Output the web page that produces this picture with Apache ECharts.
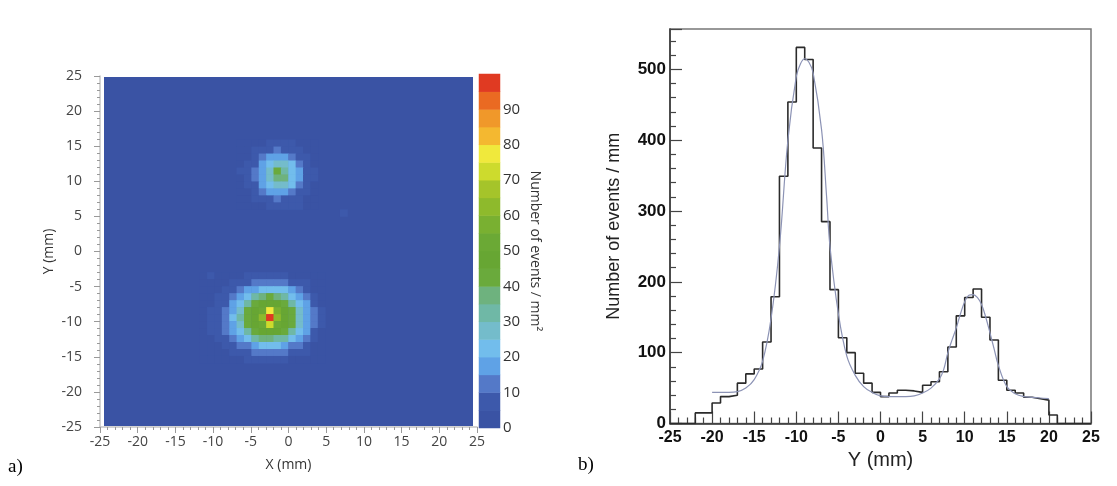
<!DOCTYPE html>
<html>
<head>
<meta charset="utf-8">
<script src="https://cdn.jsdelivr.net/npm/echarts@6/dist/echarts.min.js"></script>
<style>
  html, body { margin: 0; padding: 0; background: #fff; }
  #main { width: 1117px; height: 486px; }
</style>
</head>
<body>
<div id="main"></div>
<script>
// ---- a) 2D map: number of events / mm2, 1 mm cells ----
// lower spot, rows from y=-3..-4 (top) downwards, columns from x=-12 rightwards
var lowSpotX0 = -12;
var lowSpotYTop = -3;
var lowSpot = [
  [2, 6, 3, 2, 3, 4, 5, 6, 6, 7, 6, 5, 4, 3, 2, 2, 1],
  [2, 4, 3, 4, 6, 7, 9, 11, 12, 13, 12, 11, 9, 6, 5, 3, 2],
  [2, 3, 4, 6, 7, 11, 16, 19, 21, 22, 21, 20, 16, 12, 7, 4, 2],
  [2, 3, 5, 7, 11, 16, 23, 33, 38, 40, 36, 32, 23, 16, 12, 6, 3],
  [3, 4, 6, 9, 15, 22, 34, 43, 46, 48, 46, 43, 33, 22, 16, 9, 4],
  [3, 5, 7, 11, 18, 28, 40, 47, 54, 78, 55, 47, 40, 28, 18, 10, 5],
  [3, 6, 8, 12, 20, 30, 42, 49, 62, 95, 63, 49, 42, 29, 19, 12, 6],
  [3, 5, 8, 11, 18, 28, 40, 47, 53, 72, 53, 47, 40, 28, 18, 10, 5],
  [3, 5, 8, 12, 16, 22, 33, 42, 45, 46, 45, 42, 33, 22, 16, 9, 4],
  [2, 4, 6, 9, 12, 16, 22, 31, 35, 36, 34, 30, 22, 15, 11, 6, 3],
  [2, 3, 4, 5, 7, 10, 14, 19, 21, 22, 21, 19, 14, 10, 6, 4, 3],
  [1, 2, 3, 4, 6, 7, 9, 11, 12, 12, 11, 10, 8, 6, 5, 3, 2],
  [1, 1, 2, 3, 3, 4, 5, 6, 7, 7, 6, 5, 4, 3, 2, 2, 1]
];
// upper spot, rows from y=16..15 downwards, columns from x=-7
var upSpotX0 = -7;
var upSpotYTop = 16;
var upSpot = [
  [2, 2, 3, 4, 5, 5, 5, 5, 4, 3, 2],
  [2, 3, 5, 6, 8, 10, 9, 7, 6, 4, 3],
  [3, 4, 7, 11, 16, 18, 17, 14, 8, 5, 3],
  [3, 5, 9, 16, 22, 27, 25, 20, 13, 7, 4],
  [6, 6, 12, 19, 28, 40, 34, 24, 16, 8, 5],
  [3, 6, 12, 19, 28, 36, 35, 24, 16, 8, 5],
  [3, 5, 9, 16, 22, 27, 25, 20, 13, 7, 4],
  [3, 4, 7, 11, 16, 18, 17, 14, 8, 5, 3],
  [2, 3, 5, 6, 8, 10, 9, 8, 6, 4, 3],
  [2, 2, 3, 4, 5, 5, 6, 6, 5, 3, 2]
];
// isolated single cells [x lower edge, y lower edge, value]
var specks = [[7, 5, 6]];

// colour scale: 5 events per band, 0..100
var bandColors = [
  '#3a53a4', '#3d59ab', '#5479c8', '#5fa2e6', '#72bdec',
  '#74bccb', '#6fb8a6', '#6eb27e', '#6aaa3c', '#67a633',
  '#6ba935', '#79b031', '#8eba2c', '#a5c42a', '#cddb2d',
  '#f0e93c', '#f4b830', '#f0982a', '#ea6a22', '#e03a22'
];
var bandStep = 5;
var scaleTicks = [0, 10, 20, 30, 40, 50, 60, 70, 80, 90];

// ---- b) projection on Y: counts per 1 mm bin, bins from -25 to 25 ----
var binLeft = [];
for (var b = -25; b < 25; b++) binLeft.push(b);
var binCounts = [
  0, 0, 0, 15, 15, 29, 38, 40, 57, 70,
  77, 115, 179, 349, 454, 531, 514, 389, 285, 189,
  121, 100, 71, 57, 44, 38, 43, 47, 46, 44,
  54, 59, 73, 108, 152, 178, 190, 150, 118, 61,
  47, 43, 37, 35, 33, 12, 0, 0, 0, 0
];
// fitted curve
var fitX = [-20, -18, -17, -16, -15, -14, -13, -12, -11, -10, -9.5, -9, -8.5, -8, -7, -6.4, -6, -5, -4, -3,
  -2, -1, 0, 1, 2, 3, 4, 5, 6, 7, 7.5, 8, 8.5, 9, 9.5, 10, 10.5, 11, 11.5, 12,
  12.5, 13, 13.5, 14, 15, 16, 17, 18, 19, 20];
var fitY = [44, 44, 45, 50, 62, 88, 148, 250, 400, 490, 508, 515, 510, 495, 415, 320, 250, 155, 95, 68,
  52, 44, 39, 38, 38, 38, 39, 43, 50, 63, 76, 100, 118, 135, 155, 172, 181, 182, 178, 168,
  150, 128, 105, 82, 52, 42, 38, 37, 36, 35];

// ---- build data ----
var cells = [];
function addSpot(rows, x0, yTop) {
  rows.forEach(function (row, r) {
    row.forEach(function (v, c) {
      cells.push([x0 + c + 25, yTop - r - 1 + 25, v]);
    });
  });
}
addSpot(lowSpot, lowSpotX0, lowSpotYTop);
addSpot(upSpot, upSpotX0, upSpotYTop);
specks.forEach(function (s) { cells.push([s[0] + 25, s[1] + 25, s[2]]); });

var cellCats = [];
for (var i = -25; i < 25; i++) cellCats.push(String(i + 0.5));
var bandCats = bandColors.map(function (c, i) { return String(i); });
var bandCells = bandColors.map(function (c, i) { return [0, i, i * bandStep + bandStep / 2]; });
var pieces = bandColors.map(function (c, i) {
  return { gte: i * bandStep, lt: (i + 1) * bandStep, color: c };
});
pieces[pieces.length - 1].lte = 1000;
delete pieces[pieces.length - 1].lt;

var histLine = binLeft.map(function (e, i) { return [e, binCounts[i]]; });
histLine.push([25, 0]);
var fitLine = fitX.map(function (x, i) { return [x, fitY[i]]; });

var mapFont = 'Open Sans';
var histFont = 'Liberation Sans';

var chart = echarts.init(document.getElementById('main'));
var option = {
  animation: false,
  backgroundColor: '#ffffff',
  grid: [
    { left: 104, top: 77, width: 369, height: 349, show: true, backgroundColor: bandColors[0], borderWidth: 0 },
    { left: 100, top: 76, width: 377, height: 351, show: false },
    { left: 479, top: 74, width: 21, height: 354, show: false },
    { left: 670, top: 29, width: 421, height: 394.5, show: true, borderColor: '#777', borderWidth: 1.5 }
  ],
  xAxis: [
    { type: 'category', gridIndex: 0, data: cellCats, show: false },
    {
      type: 'value', gridIndex: 1, min: -25, max: 25, interval: 5,
      name: 'X (mm)', nameLocation: 'middle', nameGap: 31,
      nameTextStyle: { fontFamily: mapFont, fontSize: 14, color: '#333' },
      axisLine: { onZero: false, lineStyle: { color: '#c4c4c4', width: 1.5 } },
      axisTick: { length: 6, lineStyle: { color: '#999' } },
      minorTick: { show: true, splitNumber: 5, length: 3, lineStyle: { color: '#999' } },
      axisLabel: { margin: 8, fontFamily: mapFont, fontSize: 14, color: '#444' },
      splitLine: { show: false }
    },
    { type: 'category', gridIndex: 2, data: ['c'], show: false },
    {
      type: 'value', gridIndex: 3, min: -25, max: 25, interval: 5,
      name: 'Y (mm)', nameLocation: 'middle', nameGap: 26,
      nameTextStyle: { fontFamily: histFont, fontSize: 20, color: '#222' },
      axisLine: { onZero: false, lineStyle: { color: '#333', width: 1.5 } },
      axisTick: { inside: true, length: 12, lineStyle: { color: '#444', width: 1.2 } },
      minorTick: { show: true, splitNumber: 5, length: 6, lineStyle: { color: '#444', width: 1.2 } },
      axisLabel: { margin: 6, fontFamily: histFont, fontWeight: 'bold', fontSize: 16, color: '#111' },
      splitLine: { show: false }
    }
  ],
  yAxis: [
    { type: 'category', gridIndex: 0, data: cellCats, show: false },
    {
      type: 'value', gridIndex: 1, min: -25, max: 25, interval: 5,
      name: 'Y (mm)', nameLocation: 'middle', nameGap: 44,
      nameTextStyle: { fontFamily: mapFont, fontSize: 14, color: '#333' },
      axisLine: { onZero: false, lineStyle: { color: '#c4c4c4', width: 1.5 } },
      axisTick: { length: 6, lineStyle: { color: '#999' } },
      minorTick: { show: true, splitNumber: 5, length: 3, lineStyle: { color: '#999' } },
      axisLabel: { margin: 18, fontFamily: mapFont, fontSize: 14, color: '#444' },
      splitLine: { show: false }
    },
    { type: 'category', gridIndex: 2, data: bandCats, show: false },
    {
      type: 'value', gridIndex: 2, position: 'right', min: 0, max: 100, interval: 10,
      name: 'Number of events / mm²', nameLocation: 'middle', nameGap: 28, nameRotate: -90,
      nameTextStyle: { fontFamily: mapFont, fontSize: 14, color: '#333' },
      axisLine: { show: false },
      axisTick: { inside: true, length: 11, lineStyle: { color: '#2a2a2a', width: 1.2 } },
      axisLabel: {
        margin: 3, fontFamily: mapFont, fontSize: 15, color: '#333',
        formatter: function (v) { return scaleTicks.indexOf(v) >= 0 ? String(v) : ''; }
      },
      splitLine: { show: false }
    },
    {
      type: 'value', gridIndex: 3, min: 0, max: 557, interval: 100,
      name: 'Number of events / mm', nameLocation: 'middle', nameGap: 47,
      nameTextStyle: { fontFamily: histFont, fontSize: 18, color: '#222' },
      axisLine: { onZero: false, lineStyle: { color: '#333', width: 1.5 } },
      axisTick: { inside: true, length: 12, lineStyle: { color: '#444', width: 1.2 } },
      minorTick: { show: true, splitNumber: 5, length: 6, lineStyle: { color: '#444', width: 1.2 } },
      axisLabel: { margin: 4, fontFamily: histFont, fontWeight: 'bold', fontSize: 17, color: '#111', showMaxLabel: false },
      splitLine: { show: false }
    }
  ],
  visualMap: {
    type: 'piecewise', show: false, dimension: 2, seriesIndex: [0, 1], pieces: pieces
  },
  series: [
    {
      type: 'heatmap', xAxisIndex: 0, yAxisIndex: 0, data: cells,
      emphasis: { disabled: true }, itemStyle: { borderWidth: 0 }
    },
    {
      type: 'heatmap', xAxisIndex: 2, yAxisIndex: 2, data: bandCells,
      emphasis: { disabled: true }, itemStyle: { borderWidth: 0 }
    },
    {
      type: 'line', xAxisIndex: 3, yAxisIndex: 4, data: histLine, step: 'end',
      symbol: 'none', lineStyle: { color: '#2b2b2b', width: 1.6 }, z: 3
    },
    {
      type: 'line', xAxisIndex: 3, yAxisIndex: 4, data: fitLine, smooth: 0.4,
      symbol: 'none', lineStyle: { color: '#8c93b5', width: 1.2 }, z: 4
    }
  ],
  graphic: [
    { type: 'text', left: 8, top: 458, style: { text: 'a)', font: '19px "Liberation Serif"', fill: '#000' } },
    { type: 'text', left: 578, top: 456, style: { text: 'b)', font: '19px "Liberation Serif"', fill: '#000' } }
  ]
};
chart.setOption(option);
</script>
</body>
</html>
